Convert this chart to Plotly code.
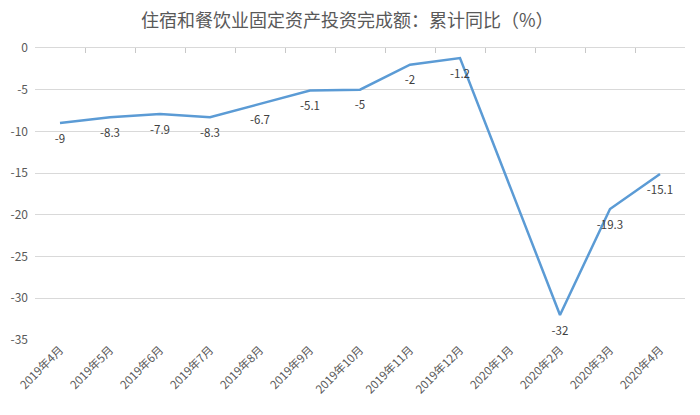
import plotly.graph_objects as go

categories = ["2019年4月", "2019年5月", "2019年6月", "2019年7月", "2019年8月", "2019年9月",
              "2019年10月", "2019年11月", "2019年12月", "2020年1月", "2020年2月", "2020年3月", "2020年4月"]
values = [-9, -8.3, -7.9, -8.3, -6.7, -5.1, -5, -2, -1.2, None, -32, -19.3, -15.1]
labels = ["-9", "-8.3", "-7.9", "-8.3", "-6.7", "-5.1", "-5", "-2", "-1.2", "", "-32", "-19.3", "-15.1"]
y_ticks = [0, -5, -10, -15, -20, -25, -30, -35]

FONT = "Noto Sans CJK SC, Microsoft YaHei, sans-serif"

fig = go.Figure()
fig.add_trace(go.Scatter(
    x=categories, y=values, mode="lines+markers+text", connectgaps=True,
    line=dict(color="#5B9BD5", width=2.5),
    marker=dict(size=16, color="rgba(0,0,0,0)"),
    text=labels, textposition="bottom center",
    textfont=dict(family=FONT, size=11.5, color="#404040"),
    showlegend=False, hoverinfo="x+y",
))
# helper trace so top category axis (tick marks at y=0) renders
fig.add_trace(go.Scatter(
    x=categories, y=[None] * len(categories), xaxis="x2", mode="lines",
    showlegend=False, hoverinfo="skip",
))

fig.update_layout(
    width=700, height=415,
    margin=dict(l=35, r=15, t=48, b=75),
    paper_bgcolor="white", plot_bgcolor="white",
    title=dict(text="住宿和餐饮业固定资产投资完成额：累计同比（%）", x=0.496, xanchor="center",
               y=0.95, yanchor="middle",
               font=dict(family=FONT, size=18, color="#595959")),
    font=dict(family=FONT, color="#595959"),
    xaxis=dict(
        type="category", categoryorder="array", categoryarray=categories,
        tickangle=-45, tickfont=dict(family=FONT, size=11.5, color="#595959"),
        showgrid=False, showline=False, ticks="", zeroline=False,
        range=[-0.5, len(categories) - 0.5],
    ),
    xaxis2=dict(
        type="category", categoryorder="array", categoryarray=categories,
        overlaying="x", side="top", anchor="y", matches="x",
        showticklabels=False, showgrid=False, showline=True,
        linecolor="#D9D9D9", linewidth=1,
        ticks="inside", ticklen=5, tickcolor="#C8C8C8", tickwidth=1, tickson="boundaries",
    ),
    yaxis=dict(
        range=[-35, 0], tickvals=y_ticks, ticktext=[str(v) for v in y_ticks],
        showgrid=True, gridcolor="#D9D9D9", gridwidth=1,
        zeroline=False, showline=False, ticks="",
        tickfont=dict(family=FONT, size=12, color="#595959"),
        ticklabelstandoff=6,
    ),
)

fig.write_html("out.html")
